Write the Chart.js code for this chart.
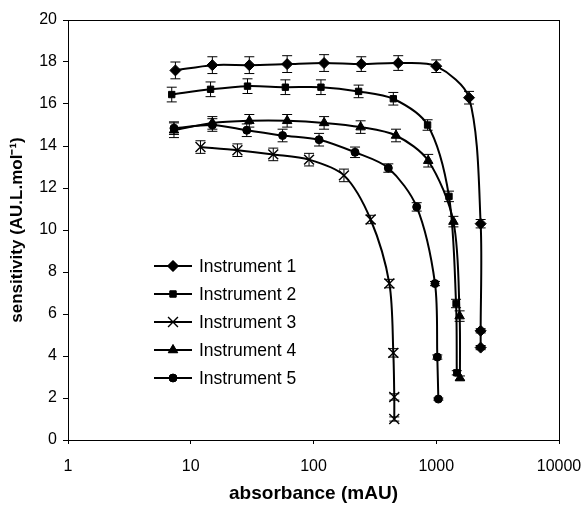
<!DOCTYPE html>
<html>
<head>
<meta charset="utf-8">
<script src="https://cdn.jsdelivr.net/npm/chart.js@4.4.0/dist/chart.umd.min.js"></script>
<style>
  body { margin: 0; background: #fff; }
  #wrap { width: 583px; height: 509px; position: relative; }
</style>
</head>
<body>
<div id="wrap"><canvas id="chart"></canvas></div>
<script>
'use strict';

// series names and marker shapes
var seriesNames = ['Instrument 1', 'Instrument 2', 'Instrument 3', 'Instrument 4', 'Instrument 5'];
var pointStyles = ['rectRot', 'rect', 'crossRot', 'triangle', 'circle'];

// absorbance (mAU)
var abs1 = [7.5, 15, 30, 61, 122, 245, 490, 1000, 1850, 2300, 2300, 2300];
var abs2 = [7, 14.5, 29, 59, 115, 233, 447, 850, 1270, 1450, 1470];
var abs3 = [12, 24, 47, 92, 177, 292, 415, 447, 455, 455];
var abs4 = [7.3, 15, 30, 61, 122, 242, 470, 860, 1380, 1550, 1560];
var abs5 = [7.3, 15, 28.6, 56, 111, 218, 407, 693, 977, 1020, 1040];

// sensitivity (AU.L.mol-1)
var sens1 = [17.6, 17.85, 17.85, 17.9, 17.95, 17.9, 17.95, 17.8, 16.3, 10.3, 5.2, 4.4];
var sens2 = [16.45, 16.7, 16.85, 16.8, 16.8, 16.6, 16.25, 15.0, 11.6, 6.5, 3.2];
var sens3 = [13.95, 13.8, 13.6, 13.35, 12.6, 10.5, 7.45, 4.15, 2.05, 1.0];
var sens4 = [14.75, 15.1, 15.2, 15.2, 15.1, 14.9, 14.5, 13.3, 10.4, 5.9, 2.95];
var sens5 = [14.85, 15.0, 14.75, 14.5, 14.3, 13.7, 12.95, 11.1, 7.45, 3.95, 1.95];

// error bars (+/-)
var err1 = [0.4, 0.4, 0.4, 0.4, 0.4, 0.35, 0.35, 0.3, 0.3, 0.2, 0.1, 0.1];
var err2 = [0.35, 0.35, 0.35, 0.35, 0.35, 0.3, 0.3, 0.25, 0.25, 0.2, 0.1];
var err3 = [0.3, 0.3, 0.3, 0.3, 0.3, 0.2, 0.2, 0.2, 0.15, 0.1];
var err4 = [0.35, 0.3, 0.3, 0.3, 0.3, 0.3, 0.3, 0.3, 0.25, 0.25, 0.1];
var err5 = [0.3, 0.3, 0.3, 0.3, 0.3, 0.25, 0.2, 0.2, 0.1, 0.1, 0.05];

var xTicks = [1, 10, 100, 1000, 10000];
var yMin = 0, yMax = 20;

var FONT = 'Liberation Sans, Arial, sans-serif';

function toPoints(xs, ys) {
    return xs.map((x, i) => ({ x: x, y: ys[i] }));
}

var allAbs = [abs1, abs2, abs3, abs4, abs5];
var allSens = [sens1, sens2, sens3, sens4, sens5];
var allErr = [err1, err2, err3, err4, err5];
var radii = [5.5, 4.5, 7, 5.5, 4];

var datasets = seriesNames.map((name, i) => ({
    label: name,
    data: toPoints(allAbs[i], allSens[i]),
    errors: allErr[i],
    borderColor: '#000',
    backgroundColor: '#000',
    borderWidth: 2,
    pointStyle: pointStyles[i],
    pointRadius: radii[i],
    pointBorderWidth: i === 2 ? 1.4 : 1,
    pointBackgroundColor: '#000',
    pointBorderColor: '#000',
    tension: 0.3,
    fill: false
}));

// vertical error bars with caps
var errorBars = {
    id: 'errorBars',
    afterDatasetsDraw(chart) {
        var ctx = chart.ctx;
        var yScale = chart.scales.y;
        ctx.save();
        ctx.strokeStyle = '#000';
        ctx.lineWidth = 1;
        chart.data.datasets.forEach((ds, di) => {
            var meta = chart.getDatasetMeta(di);
            meta.data.forEach((pt, i) => {
                var e = ds.errors[i];
                var v = ds.data[i].y;
                var top = yScale.getPixelForValue(v + e);
                var bot = yScale.getPixelForValue(v - e);
                ctx.beginPath();
                ctx.moveTo(pt.x, top); ctx.lineTo(pt.x, bot);
                ctx.moveTo(pt.x - 5, top); ctx.lineTo(pt.x + 5, top);
                ctx.moveTo(pt.x - 5, bot); ctx.lineTo(pt.x + 5, bot);
                ctx.stroke();
            });
        });
        ctx.restore();
    }
};

// frame round the plot area, placed on the end ticks of both scales
var frame = {
    id: 'frame',
    afterDraw(chart) {
        var xs = chart.scales.x, ys = chart.scales.y;
        var l = Math.round(xs.getPixelForValue(xTicks[0])) + 0.5;
        var r = Math.round(xs.getPixelForValue(xTicks[xTicks.length - 1])) + 0.5;
        var t = Math.round(ys.getPixelForValue(yMax)) + 0.5;
        var b = Math.round(ys.getPixelForValue(yMin)) + 0.5;
        var ctx = chart.ctx;
        ctx.save();
        ctx.strokeStyle = '#000';
        ctx.lineWidth = 1;
        ctx.strokeRect(l, t, r - l, b - t);
        ctx.restore();
    }
};

// legend inside the plot
var innerLegend = {
    id: 'innerLegend',
    afterDraw(chart) {
        var a = chart.chartArea;
        var ctx = chart.ctx;
        var lx = a.left + 86;
        var ly = 266;
        ctx.save();
        ctx.font = '17.5px ' + FONT;
        ctx.textBaseline = 'middle';
        ctx.fillStyle = '#000';
        chart.data.datasets.forEach((ds, i) => {
            var y = ly + i * 28;
            ctx.strokeStyle = '#000';
            ctx.lineWidth = 2;
            ctx.beginPath();
            ctx.moveTo(lx, y); ctx.lineTo(lx + 38, y);
            ctx.stroke();
            ctx.lineWidth = ds.pointBorderWidth;
            Chart.helpers.drawPoint(ctx, {
                pointStyle: ds.pointStyle,
                radius: ds.pointRadius,
                borderWidth: ds.pointBorderWidth,
                rotation: 0
            }, lx + 19, y);
            ctx.fillStyle = '#000';
            ctx.fill();
            ctx.fillText(ds.label, lx + 45, y + 1);
        });
        ctx.restore();
    }
};

var chart = new Chart(document.getElementById('chart'), {
    type: 'line',
    data: { datasets: datasets },
    plugins: [errorBars, frame, innerLegend],
    options: {
        responsive: true,
        maintainAspectRatio: false,
        animation: false,
        layout: { padding: { top: 20, right: 24, left: 0, bottom: 0 } },
        plugins: {
            legend: { display: false },
            tooltip: { enabled: false }
        },
        scales: {
            x: {
                type: 'logarithmic',
                min: xTicks[0],
                max: xTicks[xTicks.length - 1],
                afterBuildTicks: scale => {
                    scale.ticks = xTicks.map(v => ({ value: v }));
                },
                afterFit: scale => {
                    scale.height = 69;
                    scale.paddingRight = 0;
                    scale.paddingLeft = 0;
                },
                grid: { drawOnChartArea: false, tickLength: 4, color: '#000' },
                border: { display: false },
                ticks: {
                    color: '#000',
                    font: { family: FONT, size: 16 },
                    padding: 13,
                    maxRotation: 0,
                    callback: v => String(v)
                },
                title: {
                    display: true,
                    text: 'absorbance (mAU)',
                    color: '#000',
                    font: { family: FONT, size: 19, weight: 'bold' },
                    padding: { top: 4 }
                }
            },
            y: {
                min: yMin,
                max: yMax,
                afterFit: scale => { scale.width = 68; },
                grid: { drawOnChartArea: false, tickLength: 5, color: '#000' },
                border: { display: false },
                ticks: {
                    stepSize: 2,
                    color: '#000',
                    font: { family: FONT, size: 16 },
                    padding: 6
                },
                title: {
                    display: true,
                    text: 'sensitivity (AU.L.mol\u207B\u00B9)',
                    color: '#000',
                    font: { family: FONT, size: 17, weight: 'bold' },
                    padding: { top: 7, bottom: 0 }
                }
            }
        }
    }
});
</script>
</body>
</html>
